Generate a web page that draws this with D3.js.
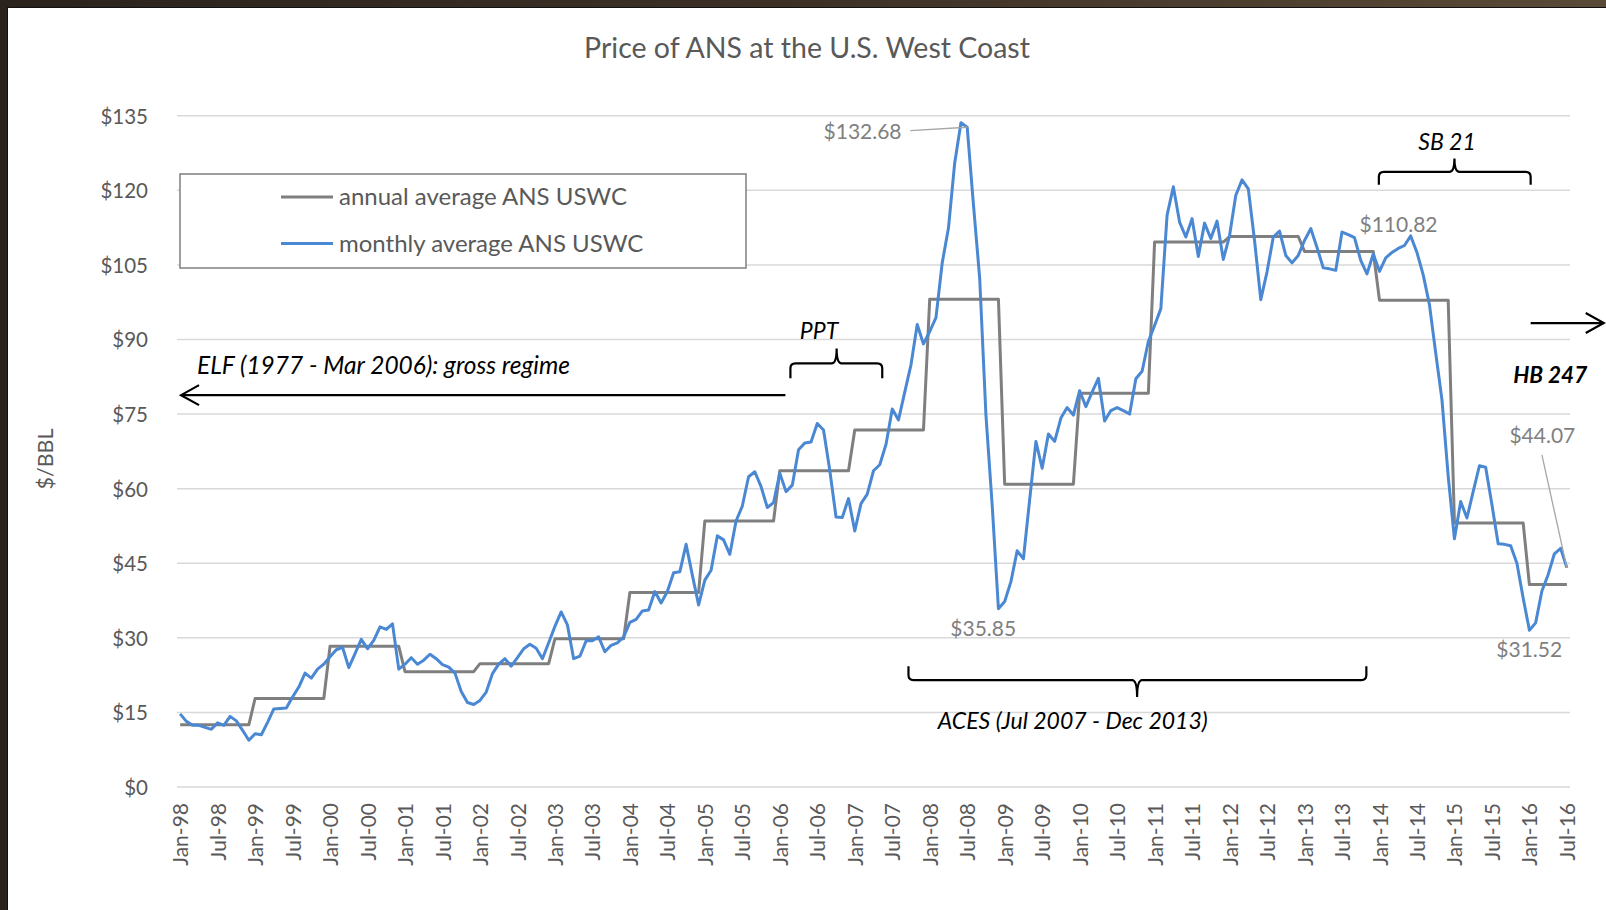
<!DOCTYPE html>
<html><head><meta charset="utf-8">
<script src="https://cdn.jsdelivr.net/npm/d3@7"></script>
<style>body{margin:0;background:#fff}svg{display:block}text{font-family:Lato,"Open Sans",sans-serif}</style>
</head><body>
<svg id="c" width="1606" height="910"></svg>
<script>
// ---------- DATA ----------
const years = [1998,1999,2000,2001,2002,2003,2004,2005,2006,2007,2008,2009,2010,2011,2012,2013,2014,2015,2016];
const annualAvg = [12.5,17.8,28.3,23.2,24.8,29.8,39.1,53.5,63.6,71.8,98.1,60.9,79.2,109.6,110.7,107.7,97.9,53.1,40.7];
const monthNames = ["Jan","Feb","Mar","Apr","May","Jun","Jul","Aug","Sep","Oct","Nov","Dec"];
const monthlyAvg = [
  14.7,13.2,12.4,12.4,12.0,11.6,12.9,12.4,14.2,13.3,11.4,9.4,          // 1998
  10.7,10.5,13.0,15.7,15.8,15.9,18.1,20.1,22.9,21.9,23.7,24.7,         // 1999
  26.2,27.6,28.1,24.0,26.8,29.7,27.8,29.5,32.2,31.7,32.8,23.7,         // 2000
  24.7,26.0,24.7,25.5,26.7,25.8,24.6,24.1,22.9,19.2,17.0,16.6,         // 2001
  17.4,19.1,22.8,24.7,25.8,24.3,26.0,27.8,28.7,27.9,25.8,29.0,         // 2002
  32.3,35.2,32.6,25.8,26.3,29.4,29.4,30.2,27.2,28.5,29.0,30.2,         // 2003
  33.1,33.7,35.4,35.6,39.3,37.0,39.3,43.1,43.3,48.8,42.6,36.6,         // 2004
  41.6,43.6,50.5,49.7,46.8,53.5,56.5,62.4,63.4,60.4,56.2,57.2,         // 2005
  63.1,59.4,60.7,67.8,69.2,69.4,73.1,71.8,63.7,54.3,54.2,58.0,         // 2006
  51.5,57.0,58.9,63.6,64.8,68.9,76.0,73.8,79.4,84.9,93.0,89.1,         // 2007
  91.6,94.4,105.4,112.4,125.5,133.6,132.68,117.1,102.3,74.8,56.7,35.85,// 2008
  37.3,41.3,47.5,45.9,57.8,69.5,64.1,71.0,69.5,74.2,76.3,74.8,         // 2009
  79.7,76.5,79.4,82.2,73.6,75.7,76.3,75.7,75.0,82.1,83.6,89.6,         // 2010
  92.8,96.2,115.0,120.7,113.6,110.6,114.3,106.7,113.4,110.3,113.8,106.1,// 2011
  110.9,119.0,122.1,120.3,109.9,98.0,103.6,110.6,111.8,106.9,105.4,106.9,// 2012
  109.9,112.3,108.5,104.4,104.2,103.9,111.6,111.1,110.5,105.9,103.2,107.2,// 2013
  103.7,106.4,107.5,108.3,108.9,110.82,107.5,103.0,97.0,87.3,77.9,62.5,// 2014
  49.9,57.4,54.1,59.4,64.6,64.3,56.8,48.9,48.8,48.5,45.0,38.0,         // 2015
  31.52,33.0,39.4,42.7,46.9,48.0,44.07                                  // 2016
];
const yTicks = [0,15,30,45,60,75,90,105,120,135];
const seriesNames = ["annual average ANS USWC","monthly average ANS USWC"];
const title = "Price of ANS at the U.S. West Coast";
const yTitle = "$/BBL";
// labelled points: month index, text, label anchor (month idx), label baseline value, optional leader start
const dataLabels = [
  {i:126, text:"$132.68", lx:103.0, lv:130.3, leader:[116.9,132.0]},
  {i:131, text:"$35.85",  lx:123.3, lv:30.4},
  {i:197, text:"$110.82", lx:188.8, lv:111.6},
  {i:216, text:"$31.52",  lx:210.7, lv:26.2},
  {i:222, text:"$44.07",  lx:212.8, lv:69.1, leader:[218.0,66.8]}
];

// derived
const months = monthlyAvg.map((v,i)=>({i, year:1998+Math.floor(i/12), m:i%12, v}));
const annualSeries = months.map(d=>({i:d.i, v:annualAvg[years.indexOf(d.year)]}));

// ---------- CHART ----------
const svg = d3.select("#c");
const W=1606,H=910;
// dark photo frame
const defs = svg.append("defs");
const g1 = defs.append("linearGradient").attr("id","fr").attr("x1",0).attr("x2",1);
g1.append("stop").attr("offset","0").attr("stop-color","#2a231d");
g1.append("stop").attr("offset","0.5").attr("stop-color","#3d3126");
g1.append("stop").attr("offset","1").attr("stop-color","#5a4a38");
svg.append("rect").attr("width",W).attr("height",H).attr("fill","url(#fr)");
svg.append("rect").attr("x",7).attr("y",7).attr("width",W-7).attr("height",H-7).attr("fill","#fff");
svg.append("line").attr("x1",7).attr("x2",W).attr("y1",7.5).attr("y2",7.5).attr("stroke","#111").attr("stroke-width",1);
svg.append("line").attr("x1",7.5).attr("x2",7.5).attr("y1",7).attr("y2",H).attr("stroke","#111").attr("stroke-width",1);

const x = d3.scalePoint().domain(d3.range(monthlyAvg.length)).range([177,1570]).padding(0.5);
const xl = d3.scaleLinear().domain([0, monthlyAvg.length-1]).range([x(0), x(monthlyAvg.length-1)]);
const y = d3.scaleLinear().domain([0,135]).range([787,115.7]);

// gridlines
svg.append("g").selectAll("line").data(yTicks).join("line")
  .attr("x1",177).attr("x2",1570).attr("y1",d=>y(d)).attr("y2",d=>y(d))
  .attr("stroke","#d9d9d9").attr("stroke-width",1.5);

// y axis labels
const yAxis = d3.axisLeft(y).tickValues(yTicks).tickFormat(d=>"$"+d).tickSize(0).tickPadding(0);
const ya = svg.append("g").attr("transform","translate(148,0)").call(yAxis);
ya.select(".domain").remove();
ya.selectAll("text").attr("font-size",20.5).attr("fill","#595959").attr("font-family","Lato").attr("dy","0.36em");

// x axis labels
const xAxis = d3.axisBottom(x).tickValues(d3.range(0,monthlyAvg.length,6))
  .tickFormat(i=>monthNames[i%12]+"-"+String((1998+Math.floor(i/12))%100).padStart(2,"0")).tickSize(0);
const xa = svg.append("g").attr("transform","translate(0,787)").call(xAxis);
xa.select(".domain").remove();
xa.selectAll("text").attr("font-size",21).attr("fill","#595959").attr("font-family","Lato")
  .attr("transform","rotate(-90)").attr("text-anchor","end").attr("x",-16).attr("y",0).attr("dy","0.36em");

// title
svg.append("text").attr("x",807).attr("y",58).attr("text-anchor","middle")
  .attr("font-size",28.5).attr("fill","#595959").text(title);
// y title
svg.append("text").attr("transform","translate(53,459) rotate(-90)").attr("text-anchor","middle")
  .attr("font-size",21.5).attr("fill","#595959").text(yTitle);

// lines
const line = d3.line().x(d=>x(d.i)).y(d=>y(d.v));
svg.append("path").datum(annualSeries).attr("d",line).attr("fill","none")
  .attr("stroke","#7f7f7f").attr("stroke-width",3).attr("stroke-linejoin","round");
svg.append("path").datum(months).attr("d",line).attr("fill","none")
  .attr("stroke","#4a88d4").attr("stroke-width",3).attr("stroke-linejoin","round");

// data labels
const lblG = svg.append("g");
dataLabels.forEach(d=>{
  lblG.append("text").attr("x",xl(d.lx)).attr("y",y(d.lv)).attr("font-size",21).attr("fill","#7f7f7f").text(d.text);
  if(d.leader){
    lblG.append("line").attr("x1",xl(d.leader[0])).attr("y1",y(d.leader[1]))
      .attr("x2",x(d.i)).attr("y2",y(monthlyAvg[d.i])).attr("stroke","#a6a6a6").attr("stroke-width",1.3);
  }
});

// legend
const lg = svg.append("g");
lg.append("rect").attr("x",180).attr("y",174).attr("width",566).attr("height",94)
  .attr("fill","#fff").attr("stroke","#7f7f7f").attr("stroke-width",1.5);
const legColors = ["#7f7f7f","#4a88d4"];
seriesNames.forEach((n,k)=>{
  const ly = 197 + k*46.5;
  lg.append("line").attr("x1",281).attr("x2",333).attr("y1",ly).attr("y2",ly).attr("stroke",legColors[k]).attr("stroke-width",3);
  lg.append("text").attr("x",339).attr("y",ly).attr("dy","0.35em").attr("font-size",24).attr("fill","#595959").text(n);
});

// annotations
const ann = svg.append("g").attr("fill","none").attr("stroke","#000").attr("stroke-width",2.2);
function brace(x1,x2,yh,yEnd,xm,yNub){
  const s = Math.sign(yEnd-yh), r=5;
  return `M${x1},${yEnd} L${x1},${yh+s*r} Q${x1},${yh} ${x1+r},${yh} L${xm-r},${yh} Q${xm},${yh} ${xm},${yNub} Q${xm},${yh} ${xm+r},${yh} L${x2-r},${yh} Q${x2},${yh} ${x2},${yh+s*r} L${x2},${yEnd}`;
}
// PPT brace
ann.append("path").attr("d",brace(xl(97.7),xl(112.4),y(85.2),y(82.2),xl(105.1),y(88.2)));
// SB 21 brace
ann.append("path").attr("d",brace(xl(191.9),xl(216.2),y(123.7),y(121.1),xl(204.0),y(126.4)));
// ACES brace
ann.append("path").attr("d",brace(xl(116.6),xl(189.9),y(21.5),y(24.3),xl(153.2),y(18.1)));
// ELF arrow
ann.append("line").attr("x1",xl(0.15)).attr("x2",xl(96.9)).attr("y1",y(78.8)).attr("y2",y(78.8));
ann.append("path").attr("d",`M${xl(0.15)+18},${y(78.8)-10} L${xl(0.15)},${y(78.8)} L${xl(0.15)+18},${y(78.8)+10}`);
// HB arrow
ann.append("line").attr("x1",xl(216.2)).attr("x2",xl(227.9)).attr("y1",y(93.3)).attr("y2",y(93.3));
ann.append("path").attr("d",`M${xl(227.9)-18},${y(93.3)-10} L${xl(227.9)},${y(93.3)} L${xl(227.9)-18},${y(93.3)+10}`);

const at = svg.append("g").attr("fill","#000").attr("font-style","italic").attr("font-size",23);
at.append("text").attr("x",xl(2.7)).attr("y",y(83.0)).attr("font-size",24.5).text("ELF (1977 - Mar 2006): gross regime");
at.append("text").attr("x",xl(99.2)).attr("y",y(90.0)).text("PPT");
at.append("text").attr("x",xl(198.2)).attr("y",y(128.1)).text("SB 21");
at.append("text").attr("x",xl(121.3)).attr("y",y(11.6)).text("ACES (Jul 2007 - Dec 2013)");
at.append("text").attr("x",xl(213.4)).attr("y",y(81.3)).attr("font-weight","bold").attr("font-size",22.5).text("HB 247");
</script>
</body></html>
